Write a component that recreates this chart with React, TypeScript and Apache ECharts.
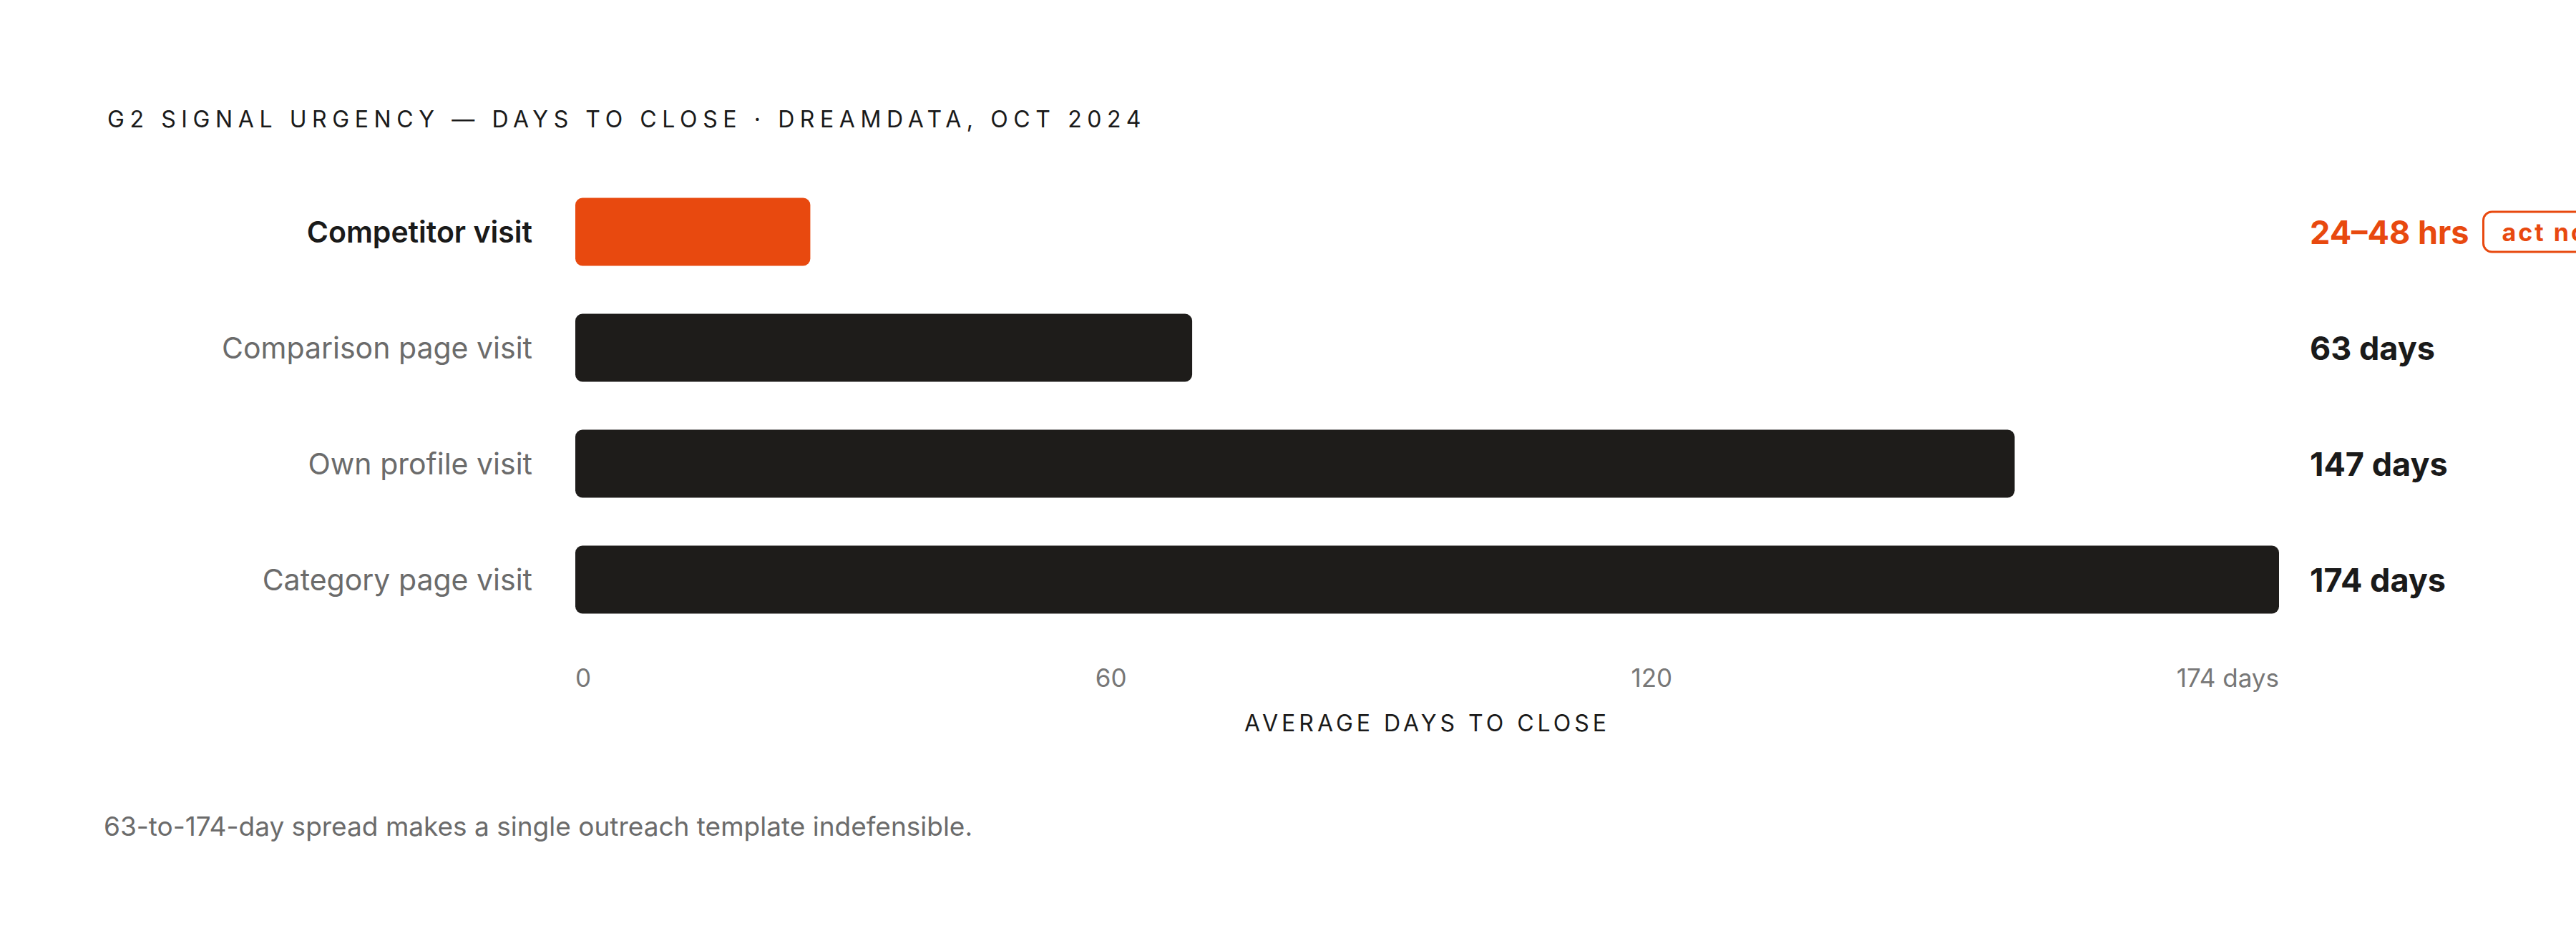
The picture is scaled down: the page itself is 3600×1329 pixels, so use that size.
import React, { useEffect, useRef } from "react";
import * as echarts from "echarts";

const categories = ["Competitor visit", "Comparison page visit", "Own profile visit", "Category page visit"];
const daysToClose = [24, 63, 147, 174];
const valueLabels = ["24–48 hrs", "63 days", "147 days", "174 days"];
const highlightIndex = 0;
const badgeText = "act now";
const tickLabels = ["0", "60", "120", "174 days"];
const axisMax = 174;
const titleText = "G2 SIGNAL URGENCY — DAYS TO CLOSE · DREAMDATA, OCT 2024";
const axisTitle = "AVERAGE DAYS TO CLOSE";
const footnote = "63-to-174-day spread makes a single outreach template indefensible.";

const FONT = "Inter, 'Noto Sans', sans-serif";
const ORANGE = "#E8490F";
const DARK = "#1E1C1A";
const GREY = "#6B6B6B";

const W = 3600;
const H = 1329;
const GRID_LEFT = 804;
const GRID_RIGHT_X = 3185;
const TICK_FONT = 35;

function tickPositions(): number[] {
  // labels spread edge to edge (space-between), converted into axis values
  const c = document.createElement("canvas").getContext("2d")!;
  c.font = `${TICK_FONT}px Inter`;
  const widths = tickLabels.map((t) => c.measureText(t).width);
  const plotW = GRID_RIGHT_X - GRID_LEFT;
  const gap = (plotW - widths.reduce((a, b) => a + b, 0)) / (tickLabels.length - 1);
  const vals: number[] = [];
  let x = 0;
  widths.forEach((w) => {
    vals.push(((x + w / 2) / plotW) * axisMax);
    x += w + gap;
  });
  return vals;
}

export default function App() {
  const ref = useRef<HTMLDivElement>(null);

  useEffect(() => {
    document.body.style.margin = "0";
    const el = ref.current!;
    const chart = echarts.init(el, null, { renderer: "svg" });
    const tickVals = tickPositions();

    const option: any = {
      animation: false,
      backgroundColor: "#ffffff",
      textStyle: { fontFamily: FONT },
      title: {
        text: titleText,
        left: 145,
        top: 145,
        textStyle: { fontFamily: FONT, fontSize: 32, fontWeight: 400, color: "#1A1A1A" },
      },
      grid: {
        left: GRID_LEFT,
        right: W - GRID_RIGHT_X,
        top: 243,
        bottom: 438,
        containLabel: false,
        outerBoundsMode: "none",
      },
      xAxis: {
        type: "value",
        min: 0,
        max: axisMax,
        splitLine: { show: false },
        axisLine: { show: false },
        axisTick: { show: false },
        name: axisTitle,
        nameLocation: "middle",
        nameGap: 103,
        nameTextStyle: { fontFamily: FONT, fontSize: 32, color: "#1A1A1A" },
        axisLabel: {
          customValues: tickVals,
          margin: 38,
          fontFamily: FONT,
          fontSize: TICK_FONT,
          color: "#777777",
          formatter: (v: number) => {
            let best = 0;
            tickVals.forEach((t, i) => {
              if (Math.abs(t - v) < Math.abs(tickVals[best] - v)) best = i;
            });
            return tickLabels[best];
          },
        },
      },
      yAxis: [
        {
          type: "category",
          inverse: true,
          data: categories,
          axisLine: { show: false },
          axisTick: { show: false },
          axisLabel: {
            margin: 60,
            formatter: (v: string, i: number) => (i === highlightIndex ? `{strong|${v}}` : `{norm|${v}}`),
            rich: {
              strong: { fontFamily: FONT, fontSize: 41, fontWeight: 600, color: "#1A1A1A" },
              norm: { fontFamily: FONT, fontSize: 41, fontWeight: 400, color: GREY },
            },
          },
        },
        {
          type: "category",
          inverse: true,
          position: "right",
          data: categories,
          axisLine: { show: false },
          axisTick: { show: false },
          axisLabel: {
            margin: 43,
            align: "left",
            formatter: (_v: string, i: number) =>
              i === highlightIndex
                ? `{hot|${valueLabels[i]}}{gap| }{badge|${badgeText}}`
                : `{val|${valueLabels[i]}}`,
            rich: {
              hot: { fontFamily: FONT, fontSize: 45, fontWeight: 700, color: ORANGE },
              val: { fontFamily: FONT, fontSize: 45, fontWeight: 700, color: "#1A1A1A" },
              gap: { width: 20, fontSize: 10 },
              badge: {
                fontFamily: FONT,
                fontSize: 34,
                fontWeight: 700,
                color: ORANGE,
                lineHeight: 34,
                borderColor: ORANGE,
                borderWidth: 3,
                borderRadius: 12,
                padding: [11, 26, 11, 26],
              },
            },
          },
        },
      ],
      series: [
        {
          type: "bar",
          yAxisIndex: 0,
          barWidth: 95,
          data: daysToClose.map((v, i) => ({
            value: v,
            itemStyle: { color: i === highlightIndex ? ORANGE : DARK, borderRadius: 10 },
          })),
        },
      ],
      graphic: [
        {
          type: "text",
          left: 145,
          top: 1136,
          style: { text: footnote, fontFamily: FONT, fontSize: 37, fill: "#6B6B6B" },
        },
      ],
    };

    const spacing = () => {
      el.querySelectorAll("text").forEach((t) => {
        const s = t.textContent || "";
        if (s === titleText) (t as any).style.letterSpacing = "7.6px";
        if (s === axisTitle) (t as any).style.letterSpacing = "5px";
        if (s === badgeText) (t as any).style.letterSpacing = "3px";
      });
    };
    chart.on("finished", spacing);
    chart.setOption(option);
    spacing();

    return () => {
      chart.dispose();
    };
  }, []);

  return <div ref={ref} style={{ position: "fixed", left: 0, top: 0, width: W, height: H }} />;
}
